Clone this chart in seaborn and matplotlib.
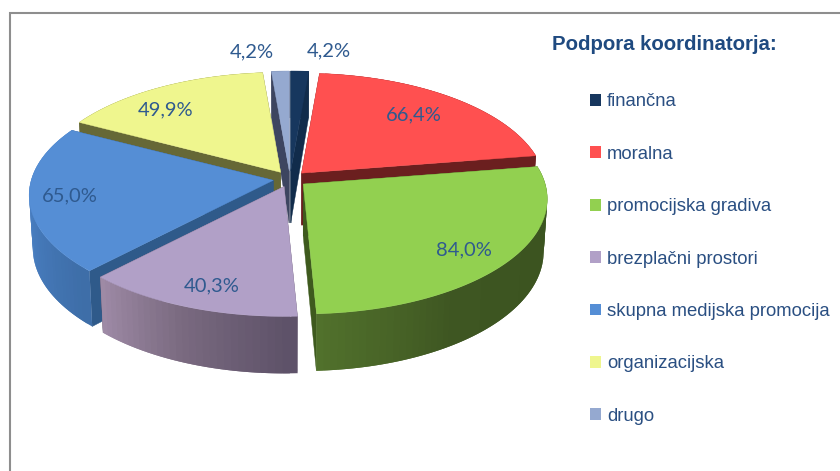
import numpy as np
import matplotlib
matplotlib.use("Agg")
import matplotlib.pyplot as plt
from matplotlib.patches import Patch
import seaborn as sns

# ---- data ----
categories = ["finančna", "moralna", "promocijska gradiva", "brezplačni prostori",
              "skupna medijska promocija", "organizacijska", "drugo"]
values = [4.2, 66.4, 84.0, 40.3, 65.0, 49.9, 4.2]
value_labels = ["4,2%", "66,4%", "84,0%", "40,3%", "65,0%", "49,9%", "4,2%"]
legend_title = "Podpora koordinatorja:"

# ---- styles ----
top_colors = ["#17375E", "#FF5050", "#92D050", "#B1A0C7", "#558ED5", "#EFF68E", "#95A9D0"]
cut_colors = ["#112C4B", "#6B1F1F", "#3E5A1E", "#5F5268", "#2F5A8A", "#666836", "#3D4560"]
wall_stops = [["#112C4B", "#112C4B"],
              ["#6B1F1F", "#6B1F1F"],
              ["#3B5520", "#3C5420", "#3E5622", "#52722C"],
              ["#5E5269", "#7A6A80", "#A08CA8"],
              ["#3E6EA8", "#4A80C4", "#4D85C8"],
              ["#666836", "#666836"],
              ["#3D4560", "#3D4560"]]
text_color = "#2F5A8F"
label_xy = [(329, 51), (414, 115), (464, 250), (212, 286), (70, 196), (166, 110), (252, 52)]

CX, CY = 290, 179       # pie centre on the canvas
EX, EY = 17, 8          # explosion
A, B, K = 242, 113, 0.13  # perspective
DEPTH = 52


def project(theta, r, base, z=0.0):
    u, v = r * np.sin(theta), r * np.cos(theta)
    s = 1.0 / (1.0 + K * v)
    x = A * u * s
    y = -B * v * s
    return base[0] + x * (1 - 0.015 * z), base[1] + y + z * (DEPTH - 5 * v)


sns.set_theme(style="white")
fig = plt.figure(figsize=(8.4, 4.71), dpi=100)
ax = fig.add_axes([0, 0, 1, 1])
ax.set_xlim(0, 840)
ax.set_ylim(471, 0)
ax.axis("off")

# frame
ax.plot([9.5, 9.5, 845], [480, 13, 13], color="#8E8E8E", lw=1.5, solid_joinstyle="miter")

# slice geometry, clockwise from the top
fracs = np.array(values) / np.sum(values)
edges = np.concatenate([[0], np.cumsum(fracs)]) * 2 * np.pi
slices = []
for i in range(len(values)):
    t1, t2 = edges[i], edges[i + 1]
    mid = (t1 + t2) / 2
    base = (CX + EX * np.sin(mid), CY - EY * np.cos(mid))
    slices.append((np.cos(mid), i, t1, t2, base))

# side walls, back slices first
for _, i, t1, t2, base in sorted(slices, key=lambda s: -s[0]):
    for t in (t1, t2):
        x0, y0 = project(t, 0, base)
        x1, y1 = project(t, 1, base)
        x2, y2 = project(t, 1, base, 1)
        x3, y3 = project(t, 0, base, 1)
        ax.fill([x0, x1, x2, x3], [y0, y1, y2, y3], color=cut_colors[i], lw=0.3)
    n = max(int(np.degrees(t2 - t1) / 1.5), 2)
    pal = sns.blend_palette(wall_stops[i], n)
    th = np.linspace(t1, t2, n + 1)
    # each strip overlaps the next one, so no seams show between them
    for k in range(n - 1, -1, -1):
        end = th[min(k + 2, n)]
        ang = np.linspace(th[k], end, 5)
        xa, ya = project(ang, 1, base)
        xb, yb = project(ang, 1, base, 1)
        ax.fill(np.r_[xa, xb[::-1]], np.r_[ya, yb[::-1]], facecolor=pal[k], edgecolor="none", lw=0)

# top faces
for _, i, t1, t2, base in slices:
    th = np.linspace(t1, t2, 80)
    xs, ys = project(th, 1, base)
    ax.fill(np.r_[base[0], xs], np.r_[base[1], ys], color=top_colors[i], lw=0.3)

# value labels
for (x, y), s in zip(label_xy, value_labels):
    ax.text(x, y, s, ha="center", va="center", color=text_color,
            fontsize=14.5, family="Lato")

# legend
handles = [Patch(facecolor=c, edgecolor="none", label=l) for c, l in zip(top_colors, categories)]
ax.legend(handles=handles, loc="upper left", bbox_to_anchor=(590, 93.5),
          bbox_transform=ax.transData, frameon=False, borderpad=0, borderaxespad=0,
          prop={"family": "Liberation Sans", "size": 13.3}, labelcolor="#2A4F82",
          handlelength=0.6, handleheight=0.6, handletextpad=0.33, labelspacing=1.915)
ax.text(552, 44, legend_title, ha="left", va="center", color="#1F4A80",
        fontsize=14.7, fontweight="bold", family="Liberation Sans")

fig.savefig("out.png", dpi=100)
